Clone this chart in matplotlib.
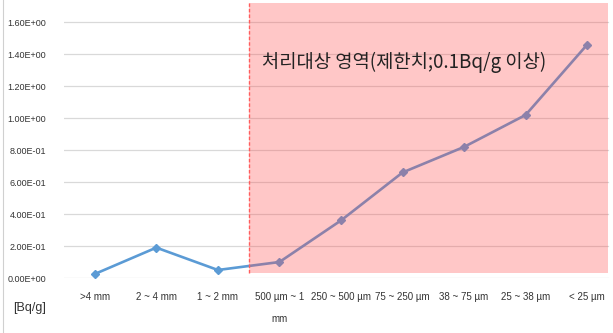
import matplotlib.pyplot as plt
import matplotlib.patches as patches

# particle size fractions and measured activity [Bq/g]
sizes = [">4 mm", "2 ~ 4 mm", "1 ~ 2 mm", "500 µm ~ 1\nmm", "250 ~ 500 µm",
         "75 ~ 250 µm", "38 ~ 75 µm", "25 ~ 38 µm", "< 25 µm"]
activity = [0.025, 0.19, 0.05, 0.10, 0.36, 0.66, 0.82, 1.02, 1.46]
yticks = [0.0, 0.2, 0.4, 0.6, 0.8, 1.0, 1.2, 1.4, 1.6]
limit_start = 2.5  # first fraction inside the treatment zone
zone_label = "처리대상 영역(제한치;0.1Bq/g 이상)"

font = "Liberation Sans"

fig = plt.figure(figsize=(6.13, 3.33), dpi=100)
ax = fig.add_axes([64 / 613, 55 / 333, 554 / 613, 275 / 333])

x = list(range(len(sizes)))
ax.set_xlim(-0.5, 8.5)
ax.set_ylim(0, 1.72)

# horizontal gridlines
for v in yticks:
    ax.plot([-0.5, 8.34], [v, v], color="#d9d9d9", lw=0.9, zorder=1)

ax.plot(x, activity, color="#5b9bd5", lw=1.9, marker="D", markersize=4,
        zorder=2)

# shaded zone above the limit
zone = patches.Rectangle((limit_start, 0.03), 8.34 - limit_start, 1.69,
                         facecolor=(1.0, 0.28, 0.28), alpha=0.3,
                         edgecolor="none", zorder=3)
ax.add_patch(zone)
ax.plot([limit_start, limit_start], [0.03, 1.72], color="#ff5c5c", lw=1.0,
        ls=(0, (2.5, 1.5)), zorder=4)

ax.text(2.72, 1.35, zone_label, fontsize=13.5, family=["Noto Sans CJK KR", "DejaVu Sans"],
        color="#222222", va="center", ha="left", zorder=5)

ax.set_xticks(x)
ax.set_xticklabels(sizes, fontsize=7, family=font, color="#333333",
                   linespacing=2.5)
ax.set_yticks(yticks)
ax.set_yticklabels([f"{v:.2E}" for v in yticks], fontsize=6.5, family=font,
                   color="#333333")
ax.tick_params(length=0, pad=13)
ax.tick_params(axis="x", pad=10)
for s in ax.spines.values():
    s.set_visible(False)

fig.text(30 / 613, 1 - 308 / 333, "[Bq/g]", fontsize=9, family=font,
         color="#333333", ha="center", va="center")
# thin frame line at the left edge
fig.add_artist(plt.Line2D([3 / 613, 3 / 613], [0, 1], color="#d0d0d0", lw=0.8))

fig.savefig("out.png", dpi=100)
